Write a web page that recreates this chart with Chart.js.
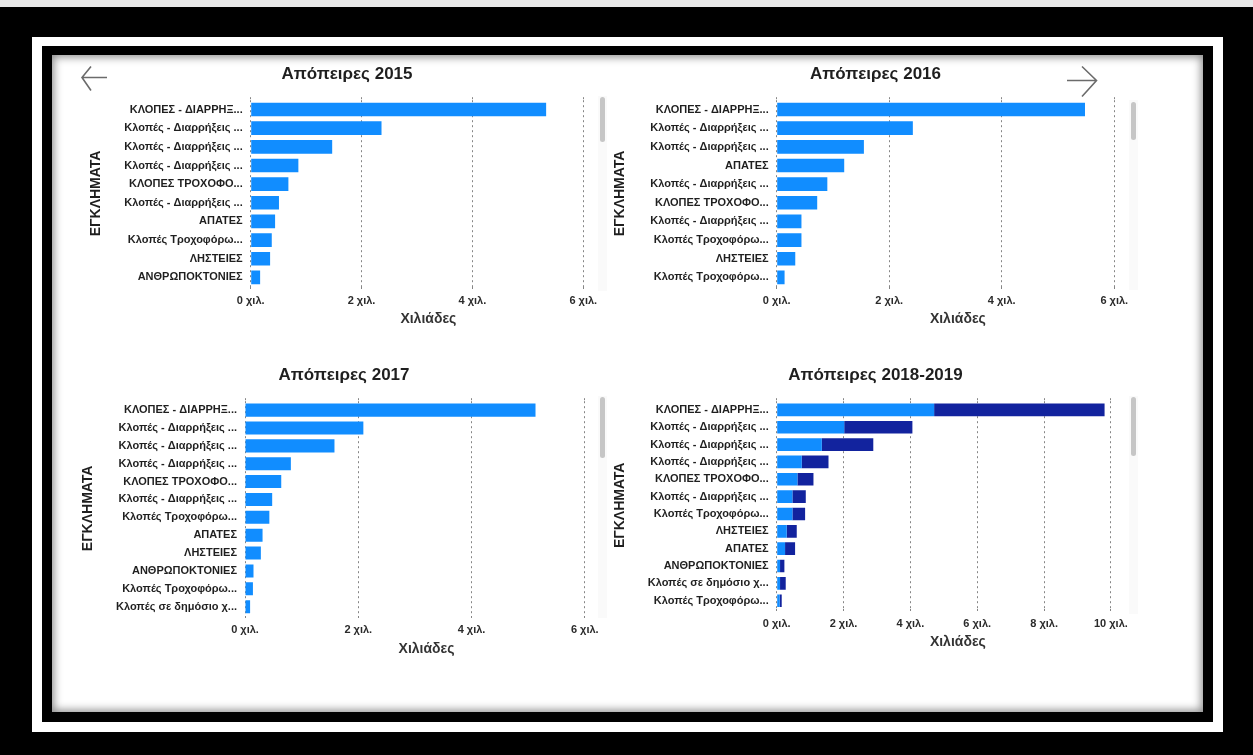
<!DOCTYPE html>
<html lang="el">
<head>
<meta charset="utf-8">
<title>Απόπειρες</title>
<script src="https://cdn.jsdelivr.net/npm/chart.js@4.4.0/dist/chart.umd.min.js"></script>
<style>
  html, body { margin: 0; padding: 0; background: #000; }
  body { width: 1253px; height: 755px; position: relative; overflow: hidden; font-family: 'Liberation Sans', Arial, sans-serif; }
  .topline { position: absolute; left: 0; top: 0; width: 1253px; height: 7px; background: #e9e9e9; }
  .frame { position: absolute; left: 32px; top: 37px; width: 1191px; height: 695px; background: #fff; }
  .inner { position: absolute; left: 42px; top: 46px; width: 1171px; height: 676px; background: #000; }
  .panel { position: absolute; left: 52px; top: 55px; width: 1151px; height: 657px; background: #fff;
           box-shadow: inset 0 0 9px 2px rgba(0,0,0,0.45); }
  .box { position: absolute; }
  .track { position: absolute; width: 9px; background: #fafafa; }
  .thumb { position: absolute; width: 5px; background: #c6c6c6; border-radius: 3px; }
  svg.arrows { position: absolute; left: 0; top: 0; }
</style>
</head>
<body>
<div class="topline"></div>
<div class="frame"></div>
<div class="inner"></div>
<div class="panel"></div>

<div class="box" style="left:88px; top:60px; width:518px; height:268px;"><canvas id="c2015"></canvas></div>
<div class="box" style="left:612px; top:60px; width:527px; height:268px;"><canvas id="c2016"></canvas></div>
<div class="box" style="left:80px; top:361px; width:528px; height:297px;"><canvas id="c2017"></canvas></div>
<div class="box" style="left:612px; top:361px; width:527px; height:290px;"><canvas id="c2018"></canvas></div>

<!-- scroll bars of the original visuals -->
<div class="track" style="left:598px; top:96px; height:195px;"></div>
<div class="thumb" style="left:600px; top:97px; height:45px;"></div>
<div class="track" style="left:1129px; top:100px; height:190px;"></div>
<div class="thumb" style="left:1131px; top:102px; height:38px;"></div>
<div class="track" style="left:598px; top:396px; height:222px;"></div>
<div class="thumb" style="left:600px; top:397px; height:61px;"></div>
<div class="track" style="left:1129px; top:396px; height:218px;"></div>
<div class="thumb" style="left:1131px; top:397px; height:59px;"></div>

<svg class="arrows" width="1253" height="755">
  <path d="M107 77.5 H82 M91 66.5 L82 77.5 L91 90.5" fill="none" stroke="#6b6b6b" stroke-width="1.6"/>
  <path d="M1067 80.5 H1096.5 M1082 66.5 L1096.5 80.5 L1082 96.5" fill="none" stroke="#6b6b6b" stroke-width="1.6"/>
</svg>

<script>
// Απόπειρες ανά κατηγορία εγκλήματος (χιλιάδες)
const cats2015 = ['ΚΛΟΠΕΣ - ΔΙΑΡΡΗΞ...', 'Κλοπές - Διαρρήξεις ...', 'Κλοπές - Διαρρήξεις ...', 'Κλοπές - Διαρρήξεις ...',
  'ΚΛΟΠΕΣ ΤΡΟΧΟΦΟ...', 'Κλοπές - Διαρρήξεις ...', 'ΑΠΑΤΕΣ', 'Κλοπές Τροχοφόρω...', 'ΛΗΣΤΕΙΕΣ', 'ΑΝΘΡΩΠΟΚΤΟΝΙΕΣ'];
const vals2015 = [5.33, 2.36, 1.47, 0.86, 0.68, 0.51, 0.44, 0.38, 0.35, 0.17];

const cats2016 = ['ΚΛΟΠΕΣ - ΔΙΑΡΡΗΞ...', 'Κλοπές - Διαρρήξεις ...', 'Κλοπές - Διαρρήξεις ...', 'ΑΠΑΤΕΣ',
  'Κλοπές - Διαρρήξεις ...', 'ΚΛΟΠΕΣ ΤΡΟΧΟΦΟ...', 'Κλοπές - Διαρρήξεις ...', 'Κλοπές Τροχοφόρω...', 'ΛΗΣΤΕΙΕΣ', 'Κλοπές Τροχοφόρω...'];
const vals2016 = [5.48, 2.42, 1.55, 1.20, 0.90, 0.72, 0.44, 0.44, 0.33, 0.14];

const cats2017 = ['ΚΛΟΠΕΣ - ΔΙΑΡΡΗΞ...', 'Κλοπές - Διαρρήξεις ...', 'Κλοπές - Διαρρήξεις ...', 'Κλοπές - Διαρρήξεις ...',
  'ΚΛΟΠΕΣ ΤΡΟΧΟΦΟ...', 'Κλοπές - Διαρρήξεις ...', 'Κλοπές Τροχοφόρω...', 'ΑΠΑΤΕΣ', 'ΛΗΣΤΕΙΕΣ', 'ΑΝΘΡΩΠΟΚΤΟΝΙΕΣ',
  'Κλοπές Τροχοφόρω...', 'Κλοπές σε δημόσιο χ...'];
const vals2017 = [5.13, 2.09, 1.58, 0.81, 0.64, 0.48, 0.43, 0.31, 0.28, 0.15, 0.14, 0.09];

const cats2018 = ['ΚΛΟΠΕΣ - ΔΙΑΡΡΗΞ...', 'Κλοπές - Διαρρήξεις ...', 'Κλοπές - Διαρρήξεις ...', 'Κλοπές - Διαρρήξεις ...',
  'ΚΛΟΠΕΣ ΤΡΟΧΟΦΟ...', 'Κλοπές - Διαρρήξεις ...', 'Κλοπές Τροχοφόρω...', 'ΛΗΣΤΕΙΕΣ', 'ΑΠΑΤΕΣ', 'ΑΝΘΡΩΠΟΚΤΟΝΙΕΣ',
  'Κλοπές σε δημόσιο χ...', 'Κλοπές Τροχοφόρω...'];
const vals2018 = [4.71, 2.02, 1.35, 0.75, 0.62, 0.47, 0.47, 0.30, 0.25, 0.10, 0.10, 0.09];
const vals2019 = [5.10, 2.04, 1.54, 0.80, 0.48, 0.40, 0.38, 0.30, 0.30, 0.13, 0.17, 0.06];

const BLUE = '#118DFF';
const NAVY = '#12239E';
const GRID = '#858585';
const TEXT = '#1f1f1f';
const FONT = "'Liberation Sans', Arial, sans-serif";

Chart.defaults.font.family = FONT;
Chart.defaults.color = TEXT;

function bars(data, color) {
    return { data: data, backgroundColor: color, borderWidth: 0, barPercentage: 0.73, categoryPercentage: 1 };
}

function buildPanel(id, title, labels, datasets, xMax, yW, xH) {
    return new Chart(document.getElementById(id), {
        type: 'bar',
        data: { labels: labels, datasets: datasets },
        options: {
            indexAxis: 'y',
            responsive: true,
            maintainAspectRatio: false,
            animation: false,
            layout: { padding: 0 },
            plugins: {
                legend: { display: false },
                tooltip: { enabled: false },
                title: {
                    display: true, text: title, color: TEXT,
                    font: { size: 17, weight: 'bold' },
                    padding: { top: 4, bottom: 12.8 }
                }
            },
            scales: {
                x: {
                    type: 'linear', position: 'bottom', min: 0, max: xMax, stacked: true,
                    grid: { color: GRID, lineWidth: 1, drawTicks: true, tickLength: 4, tickBorderDash: [2, 3] },
                    border: { display: false, dash: [2, 3] },
                    ticks: {
                        stepSize: 2, includeBounds: false, maxRotation: 0, padding: 4,
                        color: '#2b2b2b', font: { size: 11, weight: 'bold' },
                        callback: v => v + ' χιλ.'
                    },
                    title: { display: true, text: 'Χιλιάδες', color: '#333', font: { size: 14, weight: 'bold' }, padding: 0 },
                    afterFit: s => { s.height = xH; }
                },
                x2: {
                    type: 'linear', position: 'top', min: 0, max: xMax,
                    grid: { color: GRID, lineWidth: 1, drawOnChartArea: false, drawTicks: true, tickLength: 3, tickBorderDash: [2, 3] },
                    border: { display: false },
                    ticks: { stepSize: 2, includeBounds: false, display: false },
                    afterFit: s => { s.height = 3; }
                },
                y: {
                    type: 'category', stacked: true,
                    grid: { display: false, drawTicks: false },
                    border: { display: false },
                    ticks: { autoSkip: false, padding: 8, color: TEXT, font: { size: 11, weight: 'bold' } },
                    title: { display: true, text: 'ΕΓΚΛΗΜΑΤΑ', color: TEXT, font: { size: 14, weight: 'bold' }, padding: 0 },
                    afterFit: s => { s.width = yW; }
                }
            }
        }
    });
}

buildPanel('c2015', 'Απόπειρες 2015', cats2015, [bars(vals2015, BLUE)], 6.41, 162.7, 41.3);
buildPanel('c2016', 'Απόπειρες 2016', cats2016, [bars(vals2016, BLUE)], 6.44, 164.7, 41.3);
buildPanel('c2017', 'Απόπειρες 2017', cats2017, [bars(vals2017, BLUE)], 6.41, 165, 42.4);
buildPanel('c2018', 'Απόπειρες 2018-2019', cats2018, [bars(vals2018, BLUE), bars(vals2019, NAVY)], 10.84, 164.7, 41.6);
</script>
</body>
</html>
